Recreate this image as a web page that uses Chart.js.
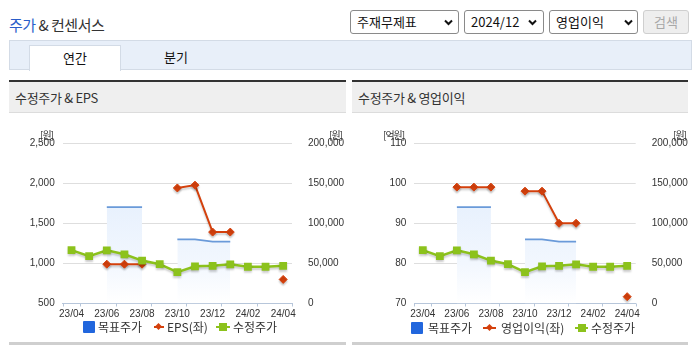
<!DOCTYPE html>
<html>
<head>
<meta charset="utf-8">
<script src="https://cdn.jsdelivr.net/npm/chart.js@4.4.1/dist/chart.umd.min.js"></script>
<style>
  html,body{margin:0;padding:0;background:#fff;}
  body{width:695px;height:349px;position:relative;overflow:hidden;font-family:"Noto Sans CJK KR","Noto Sans",sans-serif;color:#333;}
  .abs{position:absolute;}
  .title{left:9px;top:14px;font-size:15px;line-height:22px;color:#333;letter-spacing:-0.5px;}
  .title b{font-weight:normal;color:#2a5dc9;}
  .sel{position:absolute;top:10px;height:22px;border:1px solid #8a8a8a;border-radius:3px;background:#fff;font-size:13px;line-height:22px;color:#111;box-sizing:content-box;}
  .sel span{position:absolute;left:6px;top:0;}
  .sel svg{position:absolute;top:8px;}
  .btn{position:absolute;left:643px;top:10px;width:44px;height:22px;border:1px solid #cfcfcf;border-radius:3px;background:#eeeeee;color:#a8a8a8;font-size:13px;line-height:22px;text-align:center;}
  .tabbar{left:9px;top:40px;width:681px;height:28px;background:#e8eff9;border:1px solid #d3dbe6;}
  .tab{top:45px;height:25px;font-size:13px;line-height:24px;text-align:center;color:#111;}
  .tab.on{left:29px;width:90px;background:#fff;border:1px solid #d3dbe6;border-bottom:none;}
  .panel{top:80px;height:30px;border-top:2px solid #333;background:#efefef;border-bottom:1px solid #dcdcdc;}
  .panel span{position:absolute;left:6px;top:0;font-size:13px;line-height:31px;color:#333;letter-spacing:-0.3px;}
  .foot{top:342px;height:3px;background:#cfcfcf;}
  .unit{font-size:10px;line-height:10px;color:#333;letter-spacing:-1px;white-space:nowrap;}
  .lg{font-size:12px;line-height:14px;color:#333;white-space:nowrap;}
  canvas{position:absolute;}
</style>
</head>
<body>
<div class="abs title"><b>주가</b> &amp; 컨센서스</div>

<div class="sel" style="left:350px;width:107px;"><span>주재무제표</span><svg style="left:93px" width="9" height="7" viewBox="0 0 9 7"><polyline points="1,1.5 4.5,5 8,1.5" fill="none" stroke="#111" stroke-width="2"/></svg></div>
<div class="sel" style="left:464px;width:78px;"><span>2024/12</span><svg style="left:63px" width="9" height="7" viewBox="0 0 9 7"><polyline points="1,1.5 4.5,5 8,1.5" fill="none" stroke="#111" stroke-width="2"/></svg></div>
<div class="sel" style="left:549px;width:87px;"><span>영업이익</span><svg style="left:74px" width="9" height="7" viewBox="0 0 9 7"><polyline points="1,1.5 4.5,5 8,1.5" fill="none" stroke="#111" stroke-width="2"/></svg></div>
<div class="btn">검색</div>

<div class="abs tabbar"></div>
<div class="abs tab on">연간</div>
<div class="abs tab" style="left:131px;width:90px;">분기</div>

<div class="abs panel" style="left:9px;width:337px;"><span>수정주가 &amp; EPS</span></div>
<div class="abs panel" style="left:352px;width:336px;"><span>수정주가 &amp; 영업이익</span></div>

<canvas id="c1" width="337" height="229" style="left:9px;top:113px;"></canvas>
<canvas id="c2" width="336" height="229" style="left:352px;top:113px;"></canvas>

<div class="abs unit" style="left:40px;top:130px;">[원]</div>
<div class="abs unit" style="left:329px;top:130px;">[원]</div>
<div class="abs unit" style="left:383px;top:130px;">[억원]</div>
<div class="abs unit" style="left:673px;top:130px;">[원]</div>

<!-- legend left -->
<div class="abs" style="left:83px;top:321px;width:12px;height:12px;background:#2166dd;border-radius:1px;"></div>
<div class="abs lg" style="left:98px;top:320px;">목표주가</div>
<div class="abs" style="left:154px;top:326px;width:10px;height:2px;background:#d4400c;"></div>
<div class="abs" style="left:156px;top:324px;width:5px;height:5px;background:#d4400c;transform:rotate(45deg);"></div>
<div class="abs lg" style="left:167px;top:320px;">EPS(좌)</div>
<div class="abs" style="left:216px;top:326px;width:14px;height:2px;background:#8cc21c;"></div>
<div class="abs" style="left:219px;top:323px;width:8px;height:8px;background:#8cc21c;"></div>
<div class="abs lg" style="left:233px;top:320px;">수정주가</div>

<!-- legend right -->
<div class="abs" style="left:411px;top:322px;width:12px;height:12px;background:#2166dd;border-radius:1px;"></div>
<div class="abs lg" style="left:428px;top:321px;">목표주가</div>
<div class="abs" style="left:483px;top:327px;width:13px;height:2px;background:#d4400c;"></div>
<div class="abs" style="left:487px;top:325px;width:5px;height:5px;background:#d4400c;transform:rotate(45deg);"></div>
<div class="abs lg" style="left:501px;top:321px;">영업이익(좌)</div>
<div class="abs" style="left:575px;top:327px;width:13px;height:2px;background:#8cc21c;"></div>
<div class="abs" style="left:578px;top:324px;width:8px;height:8px;background:#8cc21c;"></div>
<div class="abs lg" style="left:591px;top:321px;">수정주가</div>

<div class="abs foot" style="left:9px;width:337px;"></div>
<div class="abs foot" style="left:352px;width:336px;"></div>

<script>
// ---- data ----
const months = ['23/04','23/05','23/06','23/07','23/08','23/09','23/10','23/11','23/12','24/01','24/02','24/03','24/04'];
const targetPrice = [null, null, 120000, 120000, 120000, null, 80000, 80000, 77000, 77000, null, null, null];
const adjPrice = [66500, 59100, 66300, 61300, 53500, 49000, 39000, 46300, 47000, 48800, 45800, 45800, 47000];
const eps = [null, null, 990, 990, 990, null, 1940, 1975, 1390, 1390, null, null, 800];
const opProfit = [null, null, 99, 99, 99, null, 98, 98, 90, 90, null, null, 71.7];
const epsTicks = [500, 1000, 1500, 2000, 2500];
const opTicks = [70, 80, 90, 100, 110];
const priceTicks = [0, 50000, 100000, 150000, 200000];

const tickFont = {family: "'Liberation Sans Narrow','Liberation Sans',Arial,sans-serif", size: 10};
const fmt = v => Number(v).toLocaleString('en-US');

const shadowPlugin = {
  id: 'shadow',
  beforeDatasetDraw(chart, args) {
    const ds = chart.data.datasets[args.index];
    if (!ds.shadow) return;
    const c = chart.ctx; c.save();
    c.shadowColor = 'rgba(0,0,0,0.2)'; c.shadowBlur = 2; c.shadowOffsetY = 2; c.shadowOffsetX = 0;
  },
  afterDatasetDraw(chart, args) {
    const ds = chart.data.datasets[args.index];
    if (!ds.shadow) return;
    chart.ctx.restore();
  }
};

const tickMarkPlugin = {
  id: 'tickMarks',
  afterDraw(chart) {
    const x = chart.scales.x, c = chart.ctx;
    const half = (x.getPixelForValue(1) - x.getPixelForValue(0)) / 2;
    const ys = x.top;
    c.save();
    c.strokeStyle = '#b7c6da'; c.lineWidth = 1;
    const xs = [x.left];
    for (let i = 0; i < months.length; i += 2) xs.push(x.getPixelForValue(i) + half);
    xs.forEach(px => {
      const p = Math.round(px) + 0.5;
      c.beginPath(); c.moveTo(p, ys); c.lineTo(p, ys + 3); c.stroke();
    });
    c.restore();
  }
};

function makeChart(id, leftName, leftData, leftTicks, leftW, rightW) {
  const ctx = document.getElementById(id);
  return new Chart(ctx, {
    type: 'line',
    data: {
      labels: months,
      datasets: [
        {
          label: '목표주가', data: targetPrice, yAxisID: 'y1', order: 3,
          borderColor: '#6a9ad9', borderWidth: 1.8, pointRadius: 0, tension: 0,
          fill: 'origin', spanGaps: false,
          backgroundColor: (c) => {
            const a = c.chart.chartArea;
            if (!a) return 'rgba(232,241,253,1)';
            const g = c.chart.ctx.createLinearGradient(0, a.top, 0, a.bottom);
            g.addColorStop(0, '#e2edfc');
            g.addColorStop(0.4, '#e8f1fd');
            g.addColorStop(0.75, '#f2f7fe');
            g.addColorStop(1, '#ffffff');
            return g;
          }
        },
        {
          label: leftName, data: leftData, yAxisID: 'y', order: 2, shadow: true,
          borderColor: '#d4400c', backgroundColor: '#d4400c', borderWidth: 2,
          pointStyle: 'rectRot', pointRadius: 4, pointBorderWidth: 1, tension: 0, spanGaps: false
        },
        {
          label: '수정주가', data: adjPrice, yAxisID: 'y1', order: 1, shadow: true,
          borderColor: '#8cc21c', backgroundColor: '#8cc21c', borderWidth: 2.5,
          pointStyle: 'rect', pointRadius: 5.5, pointBorderWidth: 0, tension: 0
        }
      ]
    },
    options: {
      responsive: false, animation: false,
      layout: {padding: {left: 0, right: 0, top: 30, bottom: 18.5}},
      plugins: {legend: {display: false}, tooltip: {enabled: false}},
      scales: {
        x: {
          type: 'category', offset: true,
          grid: {display: false, offset: true, drawTicks: false, tickLength: 0},
          border: {display: true, color: '#b7c6da', width: 1},
          ticks: {
            autoSkip: false, maxRotation: 0, minRotation: 0, padding: 5,
            color: '#333', font: tickFont,
            callback: function (v, i) { return i % 2 === 0 ? this.getLabelForValue(v) : ''; }
          },
          afterFit: (s) => { s.height = 20; }
        },
        y: {
          position: 'left', min: leftTicks[0], max: leftTicks[leftTicks.length - 1],
          afterBuildTicks: (s) => { s.ticks = leftTicks.map(v => ({value: v})); },
          grid: {color: '#dedede', drawTicks: false},
          border: {display: false},
          ticks: {padding: 8, color: '#333', font: tickFont, callback: v => fmt(v)},
          afterFit: (s) => { s.width = leftW; }
        },
        y1: {
          position: 'right', min: priceTicks[0], max: priceTicks[priceTicks.length - 1],
          afterBuildTicks: (s) => { s.ticks = priceTicks.map(v => ({value: v})); },
          grid: {display: false, drawOnChartArea: false},
          border: {display: false},
          ticks: {padding: 8, color: '#333', font: tickFont, callback: v => fmt(v)},
          afterFit: (s) => { s.width = rightW; }
        }
      }
    },
    plugins: [shadowPlugin, tickMarkPlugin]
  });
}

makeChart('c1', 'EPS(좌)', eps, epsTicks, 53.7, 54);
makeChart('c2', '영업이익(좌)', opProfit, opTicks, 62.3, 52.3);
</script>
</body>
</html>
